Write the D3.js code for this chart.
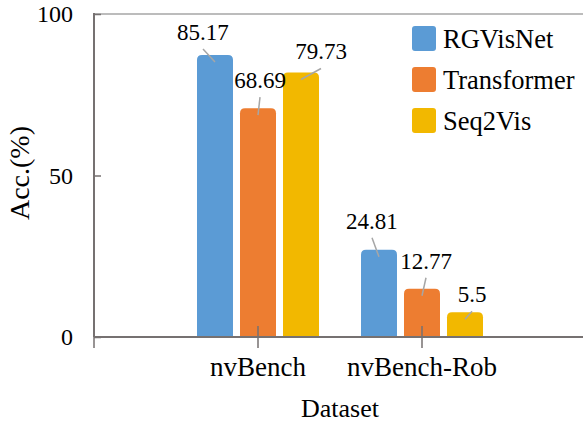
<!DOCTYPE html>
<html>
<head>
<meta charset="utf-8">
<script src="https://cdn.jsdelivr.net/npm/d3@7"></script>
<style>
  body { margin: 0; background: #fff; }
</style>
</head>
<body>
<div id="chart"></div>
<script>
// data
const categories = ["nvBench", "nvBench-Rob"];
const series = ["RGVisNet", "Transformer", "Seq2Vis"];
const rgvisnet = [85.17, 24.81];
const transformer = [68.69, 12.77];
const seq2vis = [79.73, 5.5];
const yTicks = [0, 50, 100];
const colors = ["#5B9BD5", "#ED7D31", "#F2B800"];

// hand-placed data label offsets (dx, dy from bar centre / value point)
const labelOffsets = [
  [[-12, -30], [-7, -36]],
  [[2, -35], [4, -35]],
  [[20, -28], [7, -25]]
];

const FONT = "Liberation Serif";

const W = 583, H = 426;
const svg = d3.select("#chart").append("svg")
  .attr("width", W).attr("height", H);

const values = [rgvisnet, transformer, seq2vis];

const x0 = d3.scalePoint()
  .domain(["", ...categories, " "])
  .range([94, 586]);

const x1 = d3.scaleBand()
  .domain(series)
  .range([-61, 61])
  .paddingInner(0.163);

const y = d3.scaleLinear()
  .domain([0, 100])
  .range([337, 14]);

function txt(sel, size) {
  return sel.attr("font-family", FONT)
    .attr("font-size", size)
    .attr("fill", "#000");
}

// plot top border
svg.append("line")
  .attr("x1", 94).attr("x2", W)
  .attr("y1", y(100)).attr("y2", y(100))
  .attr("stroke", "#a6a6a6").attr("stroke-width", 1.5);

// bars with rounded tops
const cap = 7, r = 5;
function barPath(x, w, top, bottom) {
  return `M${x},${bottom}V${top + r}Q${x},${top} ${x + r},${top}` +
    `H${x + w - r}Q${x + w},${top} ${x + w},${top + r}V${bottom}Z`;
}

const rows = [];
series.forEach((s, si) => {
  categories.forEach((c, ci) => {
    rows.push({ s, si, c, ci, v: values[si][ci] });
  });
});

svg.append("g").selectAll("path")
  .data(rows)
  .enter().append("path")
  .attr("d", d => barPath(x0(d.c) + x1(d.s), x1.bandwidth(), y(d.v) - cap, y(0)))
  .attr("fill", d => colors[d.si]);

// y axis
const yAxis = svg.append("g")
  .attr("transform", "translate(94,0)")
  .call(d3.axisRight(y).tickValues(yTicks).tickSize(7).tickFormat(""));
yAxis.select(".domain").remove();
yAxis.selectAll("line").attr("stroke", "#767171").attr("stroke-width", 1.5);
svg.append("line")
  .attr("x1", 94).attr("x2", 94)
  .attr("y1", y(100) - 1).attr("y2", y(0))
  .attr("stroke", "#767171").attr("stroke-width", 2);

svg.append("g").selectAll("text")
  .data(yTicks)
  .enter().append("text")
  .attr("x", 73)
  .attr("y", d => y(d) + 8)
  .attr("text-anchor", "end")
  .call(txt, 24)
  .text(d => d);

// x axis
const xAxis = svg.append("g")
  .attr("transform", `translate(0,${y(0)})`)
  .call(d3.axisBottom(x0).tickSize(0).tickFormat(""));
xAxis.select(".domain").remove();
svg.append("line")
  .attr("x1", 94).attr("x2", W)
  .attr("y1", y(0)).attr("y2", y(0))
  .attr("stroke", "#767171").attr("stroke-width", 2);
svg.append("g").selectAll("line")
  .data(x0.domain())
  .enter().append("line")
  .attr("x1", d => x0(d)).attr("x2", d => x0(d))
  .attr("y1", (d, i) => i === 0 ? y(0) : y(0) - 11)
  .attr("y2", y(0) + 11)
  .attr("stroke", "#767171").attr("stroke-width", 1.5);

svg.append("g").selectAll("text")
  .data(categories)
  .enter().append("text")
  .attr("x", d => x0(d))
  .attr("y", 376)
  .attr("text-anchor", "middle")
  .call(txt, 27)
  .text(d => d);

// data labels with leader lines
const labels = svg.append("g");
rows.forEach(d => {
  const [dx, dy] = labelOffsets[d.si][d.ci];
  const bx = x0(d.c) + x1(d.s) + x1.bandwidth() / 2;
  const by = y(d.v);
  const lx = bx + dx, ly = by + dy;
  labels.append("line")
    .attr("x1", lx).attr("y1", ly + 17)
    .attr("x2", bx).attr("y2", by)
    .attr("stroke", "#a6a6a6").attr("stroke-width", 1.5);
  labels.append("text")
    .attr("x", lx).attr("y", ly + 8)
    .attr("text-anchor", "middle")
    .call(txt, 23)
    .text(d.v);
});

// axis titles
svg.append("text")
  .attr("x", x0("nvBench") + 82)
  .attr("y", 417)
  .attr("text-anchor", "middle")
  .call(txt, 26)
  .text("Dataset");

svg.append("text")
  .attr("transform", "translate(29,173)rotate(-90)")
  .attr("text-anchor", "middle")
  .call(txt, 28)
  .text("Acc.(%)");

// legend
const legend = svg.append("g").attr("transform", "translate(412,26)");
series.forEach((s, i) => {
  const g = legend.append("g").attr("transform", `translate(0,${i * 41})`);
  g.append("rect")
    .attr("width", 24).attr("height", 25)
    .attr("rx", 3)
    .attr("fill", colors[i]);
  g.append("text")
    .attr("x", 31).attr("y", 22)
    .call(txt, 26.5)
    .text(s);
});
</script>
</body>
</html>
